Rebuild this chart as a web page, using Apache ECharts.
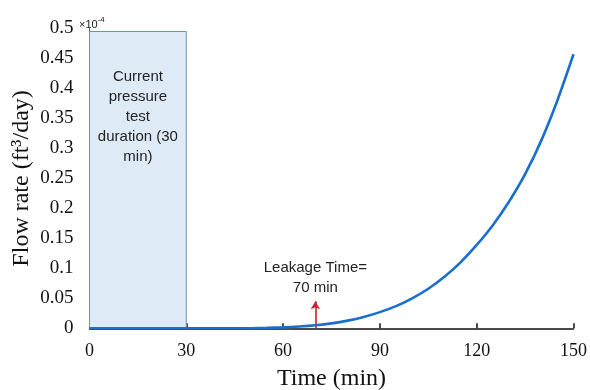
<!DOCTYPE html>
<html>
<head>
<meta charset="utf-8">
<script src="https://cdn.jsdelivr.net/npm/echarts@6/dist/echarts.min.js"></script>
<style>
  html, body { margin: 0; padding: 0; background: #fff; }
  #chart { width: 590px; height: 390px; }
</style>
</head>
<body>
<div id="chart"></div>
<script>
// Time in minutes
const timeMin = [0, 15, 30, 45, 50, 55, 60, 65, 70, 75, 80, 85, 90, 95, 100, 105, 110, 115, 120, 125, 130, 135, 140, 145, 150];
// Flow rate, in units of 1e-4 ft^3/day
const flowRate = [0, 0, 0, 0, 0.0002, 0.0007, 0.0015, 0.0029, 0.005, 0.0082, 0.0128, 0.019, 0.027, 0.037, 0.050, 0.066, 0.086, 0.110, 0.139, 0.172, 0.211, 0.257, 0.313, 0.380, 0.457];
const xTicks = [0, 30, 60, 90, 120, 150];
const yTicks = [0, 0.05, 0.1, 0.15, 0.2, 0.25, 0.3, 0.35, 0.4, 0.45, 0.5];

// Test window and leakage marker
const testWindow = [0, 30];
const testWindowTop = 0.495;
const leakTime = 70;
const leakArrowTop = 0.045;

const chart = echarts.init(document.getElementById('chart'), null, { renderer: 'canvas' });

const serif = '"Liberation Serif", "Times New Roman", serif';
const sans = '"Liberation Sans", Arial, sans-serif';

chart.setOption({
  animation: false,
  grid: { left: 89.5, right: 16.5, top: 28.5, bottom: 61.7, containLabel: false, outerBoundsMode: 'none' },
  xAxis: {
    type: 'value',
    min: xTicks[0],
    max: xTicks[xTicks.length - 1],
    interval: 30,
    name: 'Time (min)',
    nameLocation: 'middle',
    nameGap: 38,
    nameMoveOverlap: false,
    nameTextStyle: { fontFamily: serif, fontSize: 24, color: '#111' },
    axisLine: { show: true, lineStyle: { color: '#111', width: 1.5 } },
    axisTick: { show: true, inside: true, length: 5, lineStyle: { color: '#111', width: 1.5 } },
    axisLabel: { fontFamily: serif, fontSize: 18, color: '#111', margin: 14 },
    splitLine: { show: false }
  },
  yAxis: {
    type: 'value',
    min: yTicks[0],
    max: yTicks[yTicks.length - 1],
    interval: 0.05,
    name: 'Flow rate (ft³/day)',
    nameLocation: 'middle',
    nameGap: 56,
    nameMoveOverlap: false,
    nameTextStyle: { fontFamily: serif, fontSize: 24, color: '#111' },
    axisLine: { show: true, lineStyle: { color: '#555', width: 1 } },
    axisTick: { show: false },
    axisLabel: {
      fontFamily: serif, fontSize: 19, color: '#111', margin: 16,
      formatter: v => String(parseFloat(v.toFixed(2)))
    },
    splitLine: { show: false }
  },
  graphic: [
    {
      type: 'text',
      left: 79,
      top: 16,
      style: {
        text: '{b|×10}{s|-4}',
        rich: {
          b: { fontFamily: sans, fontSize: 11, fill: '#222', verticalAlign: 'bottom', lineHeight: 14 },
          s: { fontFamily: sans, fontSize: 8, fill: '#222', verticalAlign: 'top', lineHeight: 14, padding: [0, 0, 6, 0] }
        }
      }
    }
  ],
  series: [
    {
      type: 'line',
      data: timeMin.map((t, i) => [t, flowRate[i]]),
      smooth: 0.25,
      showSymbol: false,
      lineStyle: { color: '#1a6fcc', width: 2.6 },
      z: 5,
      markArea: {
        silent: true,
        itemStyle: { color: '#deebf7', borderColor: '#6b93b8', borderWidth: 1 },
        label: {
          show: true,
          position: 'inside',
          formatter: 'Current\npressure\ntest\nduration (30\nmin)',
          fontFamily: sans,
          fontSize: 15,
          lineHeight: 20,
          color: '#222',
          align: 'center',
          verticalAlign: 'top',
          offset: [0, -113]
        },
        data: [[
          { xAxis: testWindow[0], yAxis: 0 },
          { xAxis: testWindow[1], yAxis: testWindowTop }
        ]]
      },
      markLine: {
        silent: true,
        symbol: ['none', 'arrow'],
        symbolSize: [7, 8],
        lineStyle: { color: '#c8202c', width: 1.6, type: 'solid' },
        label: {
          show: true,
          position: 'end',
          distance: 3,
          formatter: 'Leakage Time=\n70 min',
          fontFamily: sans,
          fontSize: 15,
          lineHeight: 20,
          color: '#222'
        },
        data: [[
          { coord: [leakTime, 0] },
          { coord: [leakTime, leakArrowTop] }
        ]]
      }
    }
  ]
});
</script>
</body>
</html>
